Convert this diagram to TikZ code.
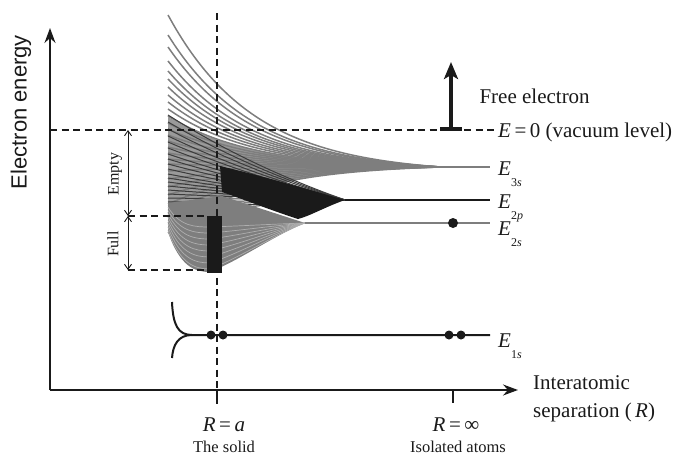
\documentclass[tikz,border=0pt]{standalone}
\usepackage{fontspec}
\setmainfont{Liberation Serif}
\newfontfamily\axisfont{Liberation Sans}
\usetikzlibrary{arrows.meta}
\definecolor{ink}{HTML}{1A1A1A}
\definecolor{band}{HTML}{7E7E7E}
\definecolor{haze}{HTML}{9A9A9A}
\definecolor{pale}{HTML}{AEAEAE}
\newcommand{\elev}[1]{\textit{E}\raisebox{-1.2ex}{\fontsize{12}{12}\selectfont #1}}

\begin{document}
\begin{tikzpicture}[x=1pt,y=-1pt,font=\fontsize{21}{24}\selectfont,text=ink,
    >={Straight Barb[length=5pt,width=7pt]},
    vac/.style={ink,line width=1.6pt,dash pattern=on 7pt off 4.5pt},
    axis/.style={ink,line width=1.8pt,-{Stealth[length=15pt,width=11pt,inset=5pt]}},
    small/.style={font=\fontsize{16}{18}\selectfont}]
  \useasboundingbox (0,0) rectangle (693,458);

  % axes
  \coordinate (O) at (50,390);
  \coordinate (ytop) at (50,28);
  \coordinate (xend) at (518,390);
  \coordinate (Ra) at (217,390);
  \coordinate (Rinf) at (453,390);
  \draw[axis] (O) -- (ytop);
  \draw[axis] (O) -- (xend);
  \draw[ink,line width=2pt] (Ra) -- ++(0,14);
  \draw[ink,line width=1.5pt] (Rinf) -- ++(0,13);

  % 3s band
  \path[fill=haze] plot[domain=168:440,samples=40,smooth] (\x,{167-50*(exp(-(\x-168)/86)-0.042)/0.958})
    -- plot[domain=440:168,samples=40,smooth] (\x,{167+66*(exp(-(\x-168)/86)-0.042)/0.958}) -- cycle;
  \foreach \c in {152,132,120,106,96,88,80,72,65,58,51,44,38,32,26,20,14,8,3,-4,-12,-20,-28,-37,-46,-56,-66}
    \draw[band,line width=1.5pt] plot[domain=168:440,samples=40,smooth]
      (\x,{167-(\c)*(exp(-(\x-168)/86)-0.042)/0.958});
  \draw[band,line width=1.5pt] (440,167) -- (490,167);

  % 2p band
  \foreach \c in {85,78,71,64,58,52,46,41,36,31,26,22,18,14,10,6,2,-2,-6,-10,-14}
    \draw[ink!85,line width=1pt] plot[domain=168:345,samples=25,smooth]
      (\x,{200-(\c)*(exp(-(\x-168)/300)-0.554)/0.446});

  % 2s band
  \path[fill=band] (168,203) -- (168,232) .. controls (180,267) and (195,272) .. (210,272)
    .. controls (240,260) and (275,235) .. (305,223) -- (222,196) -- cycle;
  \foreach \d in {4,10,16,22,28,34,40,46}
    \draw[pale,line width=0.7pt] (168,{205+0.55*\d}) .. controls (180,{223+0.9*\d}) and (195,{223+\d})
      .. (210,{223+\d}) .. controls (240,{223+0.75*\d}) and (275,{223+0.25*\d}) .. (305,223);
  \draw[band,line width=1.2pt] (305,223) -- (490,223);

  % dense part of 2p
  \fill[ink] (220,166) .. controls (270,178) and (310,190) .. (345,200)
    .. controls (325,207) and (310,216) .. (298,219)
    .. controls (270,210) and (240,198) .. (222,192) -- cycle;
  \draw[ink,line width=2pt] (345,200) -- (490,200);
  \fill[ink] (207,216) rectangle (222,273);

  % 1s level
  \draw[ink,line width=2pt] (172,302) .. controls (173,325) and (178,335) .. (192,335) -- (490,335);
  \draw[ink,line width=2pt] (172,358) .. controls (173,345) and (178,335) .. (192,335);
  \foreach \p in {211,223,449,461}
    \fill[ink] (\p,335) circle[radius=4.5pt];
  \fill[ink] (453,223) circle[radius=5pt];

  % dashed guides
  \coordinate (vacL) at (50,130);
  \coordinate (vacR) at (497,130);
  \coordinate (emptyT) at (128,130);
  \coordinate (emptyB) at (128,216);
  \coordinate (fullB) at (128,270);
  \draw[vac] (vacL) -- (vacR);
  \draw[vac] (217,13) -- (Ra);
  \draw[vac] (emptyB) -- (207,216);
  \draw[vac] (fullB) -- (207,270);
  \draw[ink,line width=0.9pt,<->] (emptyT) -- (emptyB);
  \draw[ink,line width=0.9pt,<->] (emptyB) -- (fullB);
  \node[small,rotate=90] (empty) at (115,174) {Empty};
  \node[small,rotate=90] (full) at (113,244) {Full};

  % free electron
  \coordinate (fe0) at (451,129);
  \coordinate (fe1) at (451,62);
  \draw[ink,line width=3.5pt] (440,129) -- (462,129);
  \draw[ink,line width=4pt,-{Stealth[length=17pt,width=14pt,inset=4pt]}] (fe0) -- (fe1);

  % labels
  \node[font=\axisfont\fontsize{22}{24}\selectfont,rotate=90] (ylbl) at (21,112) {Electron energy};
  \node[anchor=base west] (freeel) at (476,103) {Free electron};
  \node[anchor=base west,inner sep=0pt] (vaclbl) at (498,137) {\textit{E}\,=\,0 (vacuum level)};
  \node[anchor=base west,inner sep=0pt] (e3s) at (498,175) {\elev{3\textit{s}}};
  \node[anchor=base west,inner sep=0pt] (e2p) at (498,208) {\elev{2\textit{p}}};
  \node[anchor=base west,inner sep=0pt] (e2s) at (498,235) {\elev{2\textit{s}}};
  \node[anchor=base west,inner sep=0pt] (e1s) at (498,347) {\elev{1\textit{s}}};
  \node[anchor=base west,inner sep=0pt] (xl1) at (533,389) {Interatomic};
  \node[anchor=base west,inner sep=0pt] (xl2) at (533,417) {separation (\,\textit{R})};
  \node[anchor=base,inner sep=0pt] (ra) at (224,431) {\textit{R}\,=\,\textit{a}};
  \node[anchor=base,inner sep=0pt] (rinf) at (456,431) {\textit{R}\,=\,∞};
  \node[anchor=base,inner sep=0pt,font=\fontsize{16.5}{18}\selectfont] (solid) at (224,452) {The solid};
  \node[anchor=base,inner sep=0pt,font=\fontsize{16.5}{18}\selectfont] (iso) at (458,452) {Isolated atoms};
\end{tikzpicture}
\end{document}
